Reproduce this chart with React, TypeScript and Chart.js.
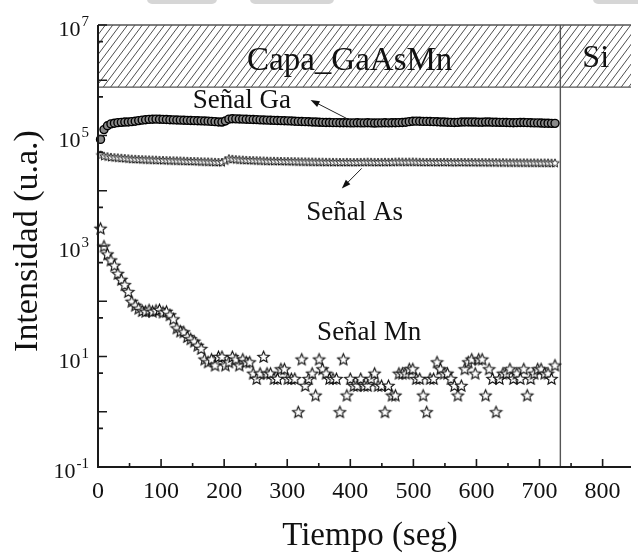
import React, { useEffect, useRef } from "react";
import { Chart, registerables } from "chart.js";

Chart.register(...registerables);

// Sampling grid of the depth profile (seconds)
const SAMPLE_START = 4;
const SAMPLE_STEP = 5.5;

// Ga signal (counts)
const gaSignal = [
  85000, 128000, 150000, 162000, 167000, 171000, 173000, 175000, 176000, 178000,
  181000, 186000, 190000, 193000, 196000, 197000, 198000, 197000, 196000, 195000,
  193000, 192000, 191000, 190000, 189000, 188000, 187000, 186000, 185000, 184000,
  183000, 182000, 180000, 178000, 176000, 175000, 183000, 198000, 201000, 200000,
  199000, 198000, 197000, 196000, 195000, 194000, 192000, 191000, 190000, 189000,
  188000, 187000, 186000, 185000, 184000, 183000, 181000, 180000, 179000, 178000,
  177000, 176000, 175000, 174000, 173000, 172000, 172000, 171000, 171000, 170000,
  170000, 170000, 169000, 169000, 170000, 169000, 169000, 170000, 169000, 168000,
  169000, 169000, 170000, 169000, 170000, 170000, 171000, 172000, 174000, 178000,
  181000, 182000, 181000, 180000, 180000, 179000, 178000, 177000, 176000, 175000,
  174000, 173000, 172000, 173000, 175000, 176000, 176000, 175000, 175000, 174000,
  174000, 175000, 175000, 174000, 174000, 173000, 173000, 172000, 171000, 170000,
  171000, 172000, 172000, 171000, 170000, 169000, 169000, 168000, 167000, 167000,
  166000, 166000,
];

// As signal (counts)
const asSignal = [
  45000, 43000, 42000, 41000, 40500, 40000, 39500, 39000, 38500, 38000,
  37800, 37500, 37200, 37000, 36800, 36600, 36400, 36200, 36000, 35800,
  35600, 35500, 35300, 35200, 35000, 34800, 34600, 34500, 34300, 34100,
  34000, 33800, 33600, 33400, 33200, 33000, 35500, 38500, 37800, 37200,
  36800, 36500, 36200, 36000, 35800, 35600, 35400, 35200, 35000, 34900,
  34800, 34700, 34600, 34500, 34400, 34300, 34200, 34100, 34000, 33900,
  33800, 33700, 33600, 33500, 33500, 33400, 33400, 33300, 33300, 33200,
  33200, 33300, 33200, 33100, 33200, 33300, 33400, 33500, 33400, 33300,
  33200, 33300, 33400, 33300, 33400, 33600, 33700, 33600, 33500, 33600,
  33700, 33500, 33400, 33300, 33200, 33300, 33200, 33100, 33200, 33300,
  33200, 33100, 33000, 33100, 33200, 33100, 33000, 33100, 33000, 32900,
  33000, 32900, 32800, 32900, 32800, 32700, 32800, 32700, 32600, 32700,
  32600, 32500, 32600, 32500, 32400, 32500, 32400, 32300, 32400, 32300,
  32200, 32200,
];

// Mn signal (counts)
const mnSignal = [
  2100, 1000, 720, 560, 450, 320, 250, 200, 150, 100,
  85, 75, 68, 66, 70, 66, 69, 71, 64, 66,
  57, 48, 33, 29, 28, 23, 21, 19, 16, 14,
  9, 8, 9, 7, 10, 10, 7, 8, 10, 9,
  7, 9, 8, 8, 5, 4, 5, 10, 5, 5,
  4, 4, 6, 6, 4, 4, 4, 1, 9, 3,
  4, 5, 2, 9, 6, 5, 4, 4, 4, 1,
  9, 2, 4, 3, 3, 4, 3, 3, 4, 5,
  3, 3, 1, 3, 2, 2, 5, 5, 5, 6,
  6, 4, 4, 2, 1, 4, 4, 8, 6, 5,
  5, 4, 3, 2, 3, 6, 8, 9, 5, 9,
  9, 2, 6, 4, 1, 4, 5, 5, 6, 4,
  5, 4, 6, 2, 4, 5, 6, 6, 5, 5,
  4, 7,
];

const xTickValues = [0, 100, 200, 300, 400, 500, 600, 700, 800];
const yLabelExponents = [7, 5, 3, 1, -1];
const X_MIN = 0;
const X_MAX = 845;
const Y_MIN = 0.1;
const Y_MAX = 1e7;

// Layer boundary GaAsMn / Si and lower edge of the layer band
const interfaceTime = 733;
const bandBottom = 7.5e5;

const SERIF = '"Liberation Serif", "Times New Roman", serif';

const toPoints = (values: number[]) =>
  values.map((v, i) => ({ x: SAMPLE_START + i * SAMPLE_STEP, y: v }));

function makeStar(size: number, lineWidth: number): HTMLCanvasElement {
  const c = document.createElement("canvas");
  c.width = size + 3;
  c.height = size + 3;
  const ctx = c.getContext("2d")!;
  const cx = c.width / 2;
  const cy = c.height / 2 + size * 0.06;
  const R = size / 2;
  const r = R * 0.45;
  ctx.beginPath();
  for (let k = 0; k < 10; k++) {
    const ang = -Math.PI / 2 + (k * Math.PI) / 5;
    const rad = k % 2 === 0 ? R : r;
    ctx.lineTo(cx + rad * Math.cos(ang), cy + rad * Math.sin(ang));
  }
  ctx.closePath();
  ctx.fillStyle = "#ffffff";
  ctx.fill();
  ctx.strokeStyle = "#111111";
  ctx.lineWidth = lineWidth;
  ctx.lineJoin = "miter";
  ctx.stroke();
  return c;
}

function drawArrow(ctx: CanvasRenderingContext2D, x0: number, y0: number, x1: number, y1: number) {
  const ang = Math.atan2(y1 - y0, x1 - x0);
  const len = 9;
  const half = 3.2;
  ctx.beginPath();
  ctx.moveTo(x0, y0);
  ctx.lineTo(x1 - Math.cos(ang) * len * 0.8, y1 - Math.sin(ang) * len * 0.8);
  ctx.stroke();
  ctx.beginPath();
  ctx.moveTo(x1, y1);
  ctx.lineTo(x1 - Math.cos(ang) * len - Math.sin(ang) * half, y1 - Math.sin(ang) * len + Math.cos(ang) * half);
  ctx.lineTo(x1 - Math.cos(ang) * len + Math.sin(ang) * half, y1 - Math.sin(ang) * len - Math.cos(ang) * half);
  ctx.closePath();
  ctx.fill();
}

// Text annotations anchored in data coordinates (centre x, baseline y)
const annotations = [
  { text: "Capa_GaAsMn", t: 399, v: 1.53e6, size: 33 },
  { text: "Si", t: 789, v: 1.74e6, size: 32 },
  { text: "Señal Ga", t: 228, v: 3.15e5, size: 27 },
  { text: "Señal As", t: 407, v: 2960, size: 27 },
  { text: "Señal Mn", t: 430, v: 19.9, size: 27 },
];

// Arrows: [tail t, tail value, head t, head value]
const arrows = [
  [394, 2.04e5, 337, 4.4e5],
  [418, 2.54e4, 386.5, 1.1e4],
];

const decorations = {
  id: "decorations",
  beforeDatasetsDraw(chart: any) {
    const { ctx, chartArea: a, scales } = chart;
    const x = scales.x;
    const y = scales.y;
    const yTop = y.getPixelForValue(Y_MAX);
    const yBand = y.getPixelForValue(bandBottom);
    ctx.save();
    ctx.beginPath();
    ctx.rect(a.left, yTop, a.right - a.left, yBand - yTop);
    ctx.clip();
    ctx.strokeStyle = "#3a3a3a";
    ctx.lineWidth = 0.9;
    const h = yBand - yTop;
    const dx = h * 0.75;
    ctx.beginPath();
    for (let k = a.left - dx; k < a.right + 10; k += 7.4) {
      ctx.moveTo(k, yBand);
      ctx.lineTo(k + dx, yTop);
    }
    ctx.stroke();
    ctx.restore();

    // band outline and interface line
    ctx.save();
    ctx.strokeStyle = "#555555";
    ctx.lineWidth = 1.4;
    ctx.beginPath();
    ctx.moveTo(a.left, yBand);
    ctx.lineTo(a.right, yBand);
    const xi = x.getPixelForValue(interfaceTime);
    ctx.moveTo(xi, yTop);
    ctx.lineTo(xi, a.bottom);
    ctx.stroke();
    ctx.restore();
  },
  afterDraw(chart: any) {
    const { ctx, chartArea: a, scales } = chart;
    const x = scales.x;
    const y = scales.y;
    ctx.save();

    // faint shapes along the top edge
    ctx.fillStyle = "#d6d6d6";
    const blobs = [[147, 217], [250, 334], [593, 650]];
    for (const [l, r] of blobs) {
      ctx.beginPath();
      ctx.roundRect(l, -8, r - l, 12, 5);
      ctx.fill();
    }

    // frame
    ctx.strokeStyle = "#555555";
    ctx.lineWidth = 1.6;
    ctx.beginPath();
    ctx.moveTo(a.left, a.top);
    ctx.lineTo(a.right, a.top);
    ctx.stroke();
    ctx.strokeStyle = "#1a1a1a";
    ctx.lineWidth = 2;
    ctx.beginPath();
    ctx.moveTo(a.left, a.top);
    ctx.lineTo(a.left, a.bottom);
    ctx.lineTo(a.right, a.bottom);
    ctx.stroke();

    // x ticks (inward)
    ctx.lineWidth = 1.6;
    ctx.beginPath();
    for (let t = 0; t <= X_MAX; t += 50) {
      const px = x.getPixelForValue(t);
      const len = t % 100 === 0 ? 8 : 4;
      ctx.moveTo(px, a.bottom);
      ctx.lineTo(px, a.bottom - len);
    }
    // y ticks (inward)
    for (let e = -1; e <= 7; e++) {
      const py = y.getPixelForValue(Math.pow(10, e));
      ctx.moveTo(a.left, py);
      ctx.lineTo(a.left + 9, py);
      if (e < 7) {
        const pm = y.getPixelForValue(5 * Math.pow(10, e));
        ctx.moveTo(a.left, pm);
        ctx.lineTo(a.left + 5, pm);
      }
    }
    ctx.stroke();

    ctx.fillStyle = "#111111";
    // x tick labels
    ctx.font = `24px ${SERIF}`;
    ctx.textAlign = "center";
    ctx.textBaseline = "alphabetic";
    for (const t of xTickValues) {
      ctx.fillText(String(t), x.getPixelForValue(t), a.bottom + 31);
    }

    // y tick labels 10^n
    for (const e of yLabelExponents) {
      const py = y.getPixelForValue(Math.pow(10, e));
      const sup = e < 0 ? "-" + Math.abs(e) : String(e);
      ctx.font = `15px ${SERIF}`;
      const supW = ctx.measureText(sup).width;
      const right = a.left - 9;
      ctx.textAlign = "left";
      ctx.fillText(sup, right - supW, py + 1);
      ctx.font = `22px ${SERIF}`;
      ctx.textAlign = "right";
      ctx.fillText("10", right - supW - 1, py + 11);
    }

    // axis titles
    ctx.font = `33px ${SERIF}`;
    ctx.textAlign = "center";
    ctx.fillText("Tiempo (seg)", 370, 545);
    ctx.save();
    ctx.translate(37, 241);
    ctx.rotate(-Math.PI / 2);
    ctx.font = `34px ${SERIF}`;
    ctx.fillText("Intensidad (u.a.)", 0, 0);
    ctx.restore();

    // annotations
    for (const an of annotations) {
      ctx.font = `${an.size}px ${SERIF}`;
      ctx.textAlign = "center";
      ctx.fillText(an.text, x.getPixelForValue(an.t), y.getPixelForValue(an.v));
    }
    ctx.strokeStyle = "#222222";
    ctx.fillStyle = "#111111";
    ctx.lineWidth = 1;
    for (const [t0, v0, t1, v1] of arrows) {
      drawArrow(ctx, x.getPixelForValue(t0), y.getPixelForValue(v0), x.getPixelForValue(t1), y.getPixelForValue(v1));
    }
    ctx.restore();
  },
};

export default function App() {
  const ref = useRef<HTMLCanvasElement>(null);

  useEffect(() => {
    if (!ref.current) return;
    const starMn = makeStar(12, 1.1);
    const starAs = makeStar(9, 0.9);
    const chart = new Chart(ref.current, {
      type: "scatter",
      data: {
        datasets: [
          {
            label: "Señal Mn",
            data: toPoints(mnSignal),
            pointStyle: starMn as any,
            pointRadius: 6,
            clip: false as any,
          },
          {
            label: "Señal As",
            data: toPoints(asSignal),
            pointStyle: starAs as any,
            pointRadius: 4,
            clip: false as any,
          },
          {
            label: "Señal Ga",
            data: toPoints(gaSignal),
            pointStyle: "circle",
            pointRadius: 4,
            borderWidth: 1.4,
            borderColor: "#000000",
            backgroundColor: "#8a8a8a",
            clip: false as any,
          },
        ],
      },
      options: {
        responsive: false,
        animation: false,
        devicePixelRatio: 1,
        events: [],
        layout: { padding: { left: 98, top: 25, right: 0, bottom: 87 } },
        plugins: { legend: { display: false }, tooltip: { enabled: false } },
        scales: {
          x: { type: "linear", min: X_MIN, max: X_MAX, display: false },
          y: { type: "logarithmic", min: Y_MIN, max: Y_MAX, display: false },
        },
      },
      plugins: [decorations],
    });
    return () => chart.destroy();
  }, []);

  return (
    <div style={{ position: "absolute", left: 0, top: 0, width: 638, height: 554, background: "#fff", overflow: "hidden" }}>
      <canvas ref={ref} width={638} height={554} style={{ display: "block", width: 638, height: 554 }} />
    </div>
  );
}
